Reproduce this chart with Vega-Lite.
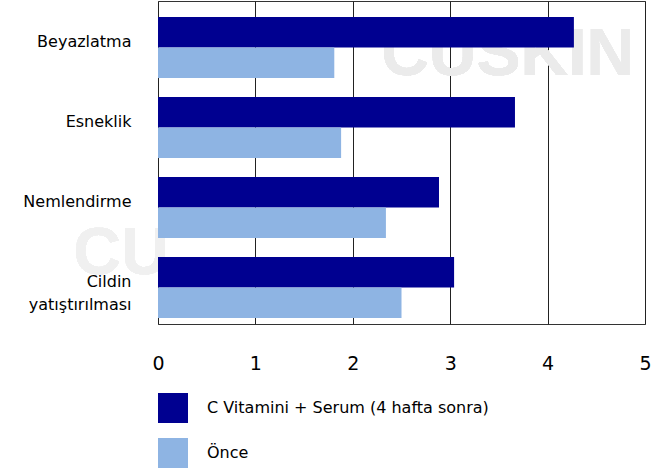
{
  "$schema": "https://vega.github.io/schema/vega-lite/v6.json",
  "width": 487,
  "height": 323,
  "autosize": {"type": "none"},
  "padding": {"left": 158, "top": 1, "right": 24, "bottom": 147},
  "background": "white",
  "config": {
    "font": "DejaVu Sans",
    "view": {"stroke": "#333333", "strokeWidth": 1}
  },
  "data": {
    "values": [
      {"category": "Beyazlatma", "series": "C Vitamini + Serum (4 hafta sonra)", "value": 4.27},
      {"category": "Beyazlatma", "series": "Önce", "value": 1.81},
      {"category": "Esneklik", "series": "C Vitamini + Serum (4 hafta sonra)", "value": 3.665},
      {"category": "Esneklik", "series": "Önce", "value": 1.88},
      {"category": "Nemlendirme", "series": "C Vitamini + Serum (4 hafta sonra)", "value": 2.885},
      {"category": "Nemlendirme", "series": "Önce", "value": 2.34},
      {"category": "Cildin yatıştırılması", "series": "C Vitamini + Serum (4 hafta sonra)", "value": 3.04},
      {"category": "Cildin yatıştırılması", "series": "Önce", "value": 2.5}
    ]
  },
  "layer": [
    {
      "mark": {"type": "text", "font": "Liberation Sans", "fontWeight": "bold", "fontSize": 66, "fill": "#ebebeb", "align": "center", "baseline": "middle", "dy": 8, "clip": false},
      "encoding": {
        "x": {"datum": 3.59, "type": "quantitative"},
        "y": {"datum": "Beyazlatma", "type": "nominal"},
        "text": {"value": "CUSKIN"}
      }
    },
    {
      "mark": {"type": "text", "font": "Liberation Sans", "fontWeight": "bold", "fontSize": 66, "fill": "#f0f0f0", "align": "left", "baseline": "middle", "dy": -33, "clip": false},
      "encoding": {
        "x": {"datum": -0.87, "type": "quantitative"},
        "y": {"datum": "Cildin yatıştırılması", "type": "nominal"},
        "text": {"value": "CU"}
      }
    },
    {
      "mark": {"type": "bar"},
      "encoding": {
        "y": {
          "field": "category",
          "type": "nominal",
          "sort": ["Beyazlatma", "Esneklik", "Nemlendirme", "Cildin yatıştırılması"],
          "scale": {"paddingInner": 0.2375, "paddingOuter": 0.1375, "align": 0.727},
          "axis": {
            "title": null,
            "domain": false,
            "ticks": false,
            "grid": false,
            "labelPadding": 27,
            "labelFontSize": 16,
            "labelColor": "#000000",
            "labelLimit": 0,
            "labelOffset": -5,
            "labelLineHeight": 23,
            "labelExpr": "datum.value == 'Cildin yatıştırılması' ? ['Cildin', 'yatıştırılması'] : datum.label"
          }
        },
        "yOffset": {
          "field": "series",
          "type": "nominal",
          "sort": ["C Vitamini + Serum (4 hafta sonra)", "Önce"],
          "scale": {"paddingInner": 0, "paddingOuter": 0}
        },
        "x": {
          "field": "value",
          "type": "quantitative",
          "scale": {"domain": [0, 5], "nice": false, "zero": true},
          "axis": {
            "title": null,
            "values": [0, 1, 2, 3, 4, 5],
            "format": "d",
            "grid": true,
            "gridColor": "#222222",
            "gridWidth": 1,
            "domain": false,
            "ticks": false,
            "labelPadding": 30,
            "labelFontSize": 19,
            "labelColor": "#000000",
            "labelFlush": false
          }
        },
        "color": {
          "field": "series",
          "type": "nominal",
          "scale": {
            "domain": ["C Vitamini + Serum (4 hafta sonra)", "Önce"],
            "range": ["#000090", "#8EB4E3"]
          },
          "legend": {
            "title": null,
            "orient": "none",
            "legendX": 0,
            "legendY": 392,
            "symbolType": "square",
            "symbolSize": 900,
            "symbolStrokeWidth": 0,
            "symbolOpacity": 1,
            "labelFontSize": 16,
            "labelColor": "#000000",
            "labelOffset": 19,
            "labelLimit": 0,
            "rowPadding": 15
          }
        }
      }
    }
  ]
}
